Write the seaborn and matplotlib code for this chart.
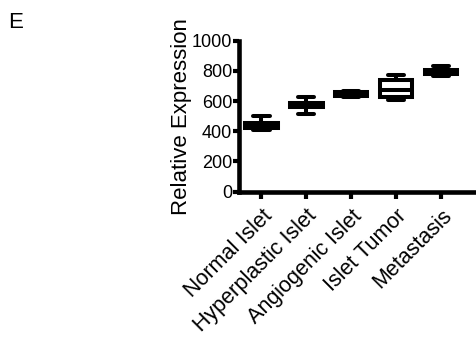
import matplotlib
matplotlib.use('Agg')
from matplotlib import pyplot as plt
import seaborn as sns
import pandas as pd

# five values per group: min, q1, median, q3, max
categories = ['Normal Islet', 'Hyperplastic Islet', 'Angiogenic Islet', 'Islet Tumor', 'Metastasis']
normal_islet = [405, 418, 435, 455, 500]
hyperplastic_islet = [511, 562, 574, 586, 624]
angiogenic_islet = [625, 630, 645, 660, 665]
islet_tumor = [608, 625, 672, 742, 770]
metastasis = [768, 779, 790, 803, 832]
yticks = [0, 200, 400, 600, 800, 1000]


def BuildData():
    groups = [normal_islet, hyperplastic_islet, angiogenic_islet, islet_tumor, metastasis]
    rows = []
    for name, vals in zip(categories, groups):
        for v in vals:
            rows.append({'group': name, 'value': v})
    return pd.DataFrame(rows)


def PlotAll(pd_data, out):
    sns.set_style('ticks')
    plt.rcParams['font.family'] = ['Liberation Sans', 'DejaVu Sans']
    plt.rcParams['text.color'] = 'black'
    plt.rcParams['axes.labelcolor'] = 'black'
    plt.rcParams['xtick.color'] = 'black'
    plt.rcParams['ytick.color'] = 'black'
    fig = plt.figure(figsize=(4.77, 3.41), dpi=100)
    axe = fig.add_axes([0.501, 0.438, 0.499, 0.443])
    lw = 2.9
    sns.boxplot(x='group', y='value', data=pd_data, order=categories, ax=axe,
                whis=(0, 100), width=0.72, color='white', linecolor='black',
                linewidth=lw, fill=True, showfliers=False,
                medianprops={'color': 'black', 'linewidth': lw})
    axe.set_ylim(0, 1000)
    axe.set_xlim(-0.5, 4.8)
    axe.set_yticks(yticks)
    sns.despine(ax=axe)
    for s in ['left', 'bottom']:
        axe.spines[s].set_linewidth(3.3)
        axe.spines[s].set_color('black')
    axe.yaxis.set_tick_params(width=3, length=4, labelsize=13, pad=1, color='black', labelcolor='black')
    axe.xaxis.set_tick_params(width=3, length=5, labelsize=15.5, pad=5, color='black', labelcolor='black')
    plt.setp(axe.get_xticklabels(), rotation=45, ha='right', rotation_mode='anchor')
    axe.set_xlabel('')
    axe.set_ylabel('Relative Expression', size=16, labelpad=0, color='black')
    fig.text(0.017, 0.965, 'E', size=16, va='top', ha='left', color='black')
    fig.savefig(out, dpi=100)


def main():
    PlotAll(BuildData(), 'out.png')


if __name__ == '__main__':
    main()
